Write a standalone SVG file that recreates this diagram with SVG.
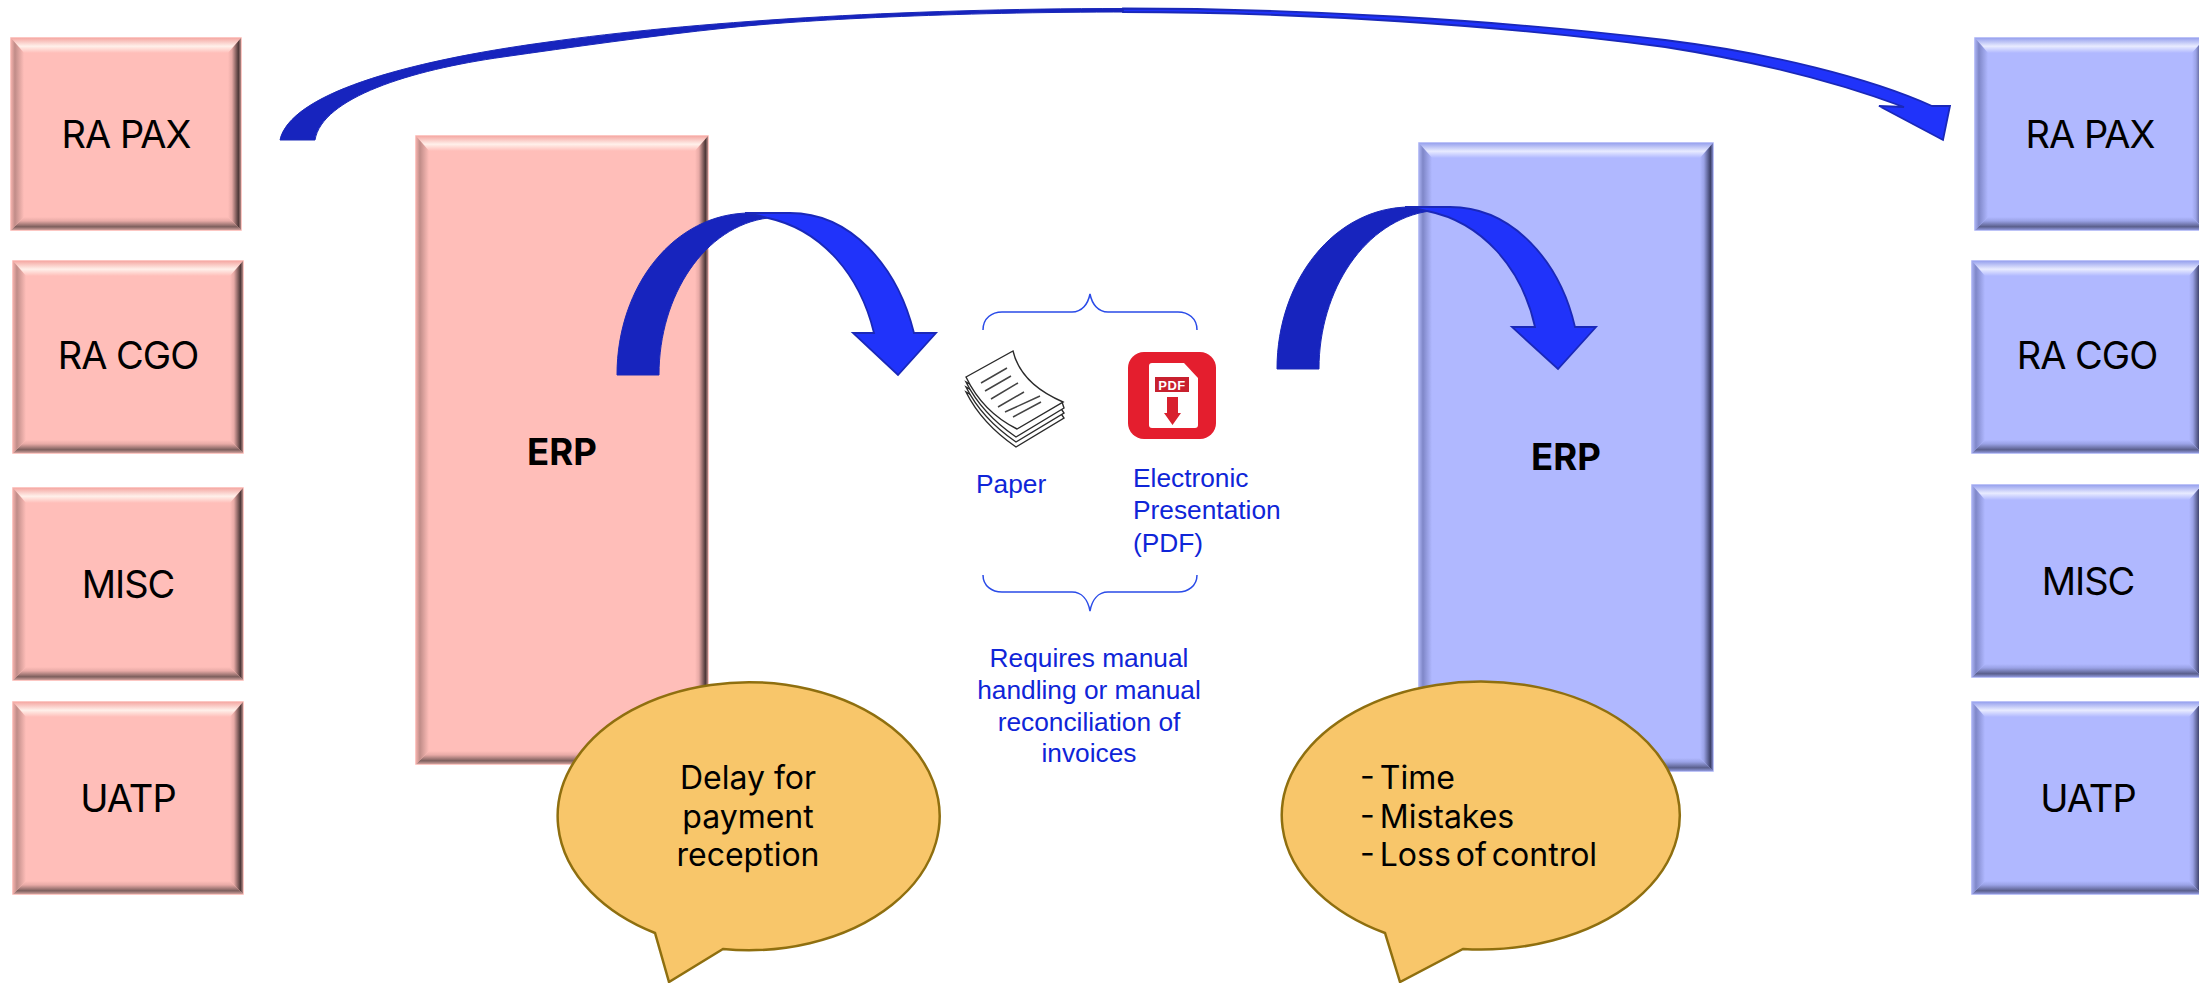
<svg xmlns="http://www.w3.org/2000/svg" width="2199" height="983" viewBox="0 0 2199 983">
<style>
.lbl{font-family:Inter,"Liberation Sans",sans-serif;font-size:38px;letter-spacing:-1px;fill:#000;text-anchor:middle}
.erp{font-family:Inter,"Liberation Sans",sans-serif;font-size:36.500px;font-weight:700;fill:#000;text-anchor:middle}
.say{font-family:Inter,"Liberation Sans",sans-serif;font-size:32px;fill:#000}
.mid{text-anchor:middle}
.tight{word-spacing:-4px}
.blue{font-family:"Liberation Sans",Arial,sans-serif;font-size:26.300px;fill:#0f25d8}
.brace{fill:none;stroke:#2a4be8;stroke-width:1.5}
.call{fill:#F8C66A;stroke:#8f6f0f;stroke-width:2.500}
.dark{fill:#1724BE;stroke:#1a28b8;stroke-width:1}
.bright{fill:#2033FA;stroke:#1a28b8;stroke-width:1.800;stroke-linejoin:miter}
.pk{fill:#FFBEB9;stroke:#fbb5b0;stroke-width:1.500}
.bl{fill:#B0B8FF;stroke:#a8b0f5;stroke-width:1.500}
.sheet{fill:#fff;stroke:#2a2a2a;stroke-width:1.400}
.ln{fill:none;stroke:#444;stroke-width:1.500}
</style>
<defs>
<linearGradient id="pt" x1="0" y1="0" x2="0" y2="1"><stop offset="0" stop-color="#f5a9a4"/><stop offset=".55" stop-color="#fff0ea"/><stop offset="1" stop-color="#FFBEB9"/></linearGradient>
<linearGradient id="pr" x1="0" y1="0" x2="1" y2="0"><stop offset="0" stop-color="#FFBEB9"/><stop offset=".3" stop-color="#e8aaa6"/><stop offset=".8" stop-color="#4d3838"/><stop offset="1" stop-color="#b58b88"/></linearGradient>
<linearGradient id="pb" x1="0" y1="0" x2="0" y2="1"><stop offset="0" stop-color="#FFBEB9"/><stop offset=".3" stop-color="#e8aaa6"/><stop offset=".75" stop-color="#7d5f5d"/><stop offset="1" stop-color="#d0a09c"/></linearGradient>
<linearGradient id="pl" x1="0" y1="0" x2="1" y2="0"><stop offset="0" stop-color="#f2b0ab"/><stop offset=".3" stop-color="#c08c88"/><stop offset="1" stop-color="#FFBEB9"/></linearGradient>
<linearGradient id="bt" x1="0" y1="0" x2="0" y2="1"><stop offset="0" stop-color="#98a2ee"/><stop offset=".55" stop-color="#e8ebff"/><stop offset="1" stop-color="#B0B8FF"/></linearGradient>
<linearGradient id="br" x1="0" y1="0" x2="1" y2="0"><stop offset="0" stop-color="#B0B8FF"/><stop offset=".3" stop-color="#9aa2e6"/><stop offset=".8" stop-color="#3c4068"/><stop offset="1" stop-color="#8088c8"/></linearGradient>
<linearGradient id="bb" x1="0" y1="0" x2="0" y2="1"><stop offset="0" stop-color="#B0B8FF"/><stop offset=".3" stop-color="#9aa2e6"/><stop offset=".75" stop-color="#5a5f8c"/><stop offset="1" stop-color="#9098dc"/></linearGradient>
<linearGradient id="bg" x1="0" y1="0" x2="1" y2="0"><stop offset="0" stop-color="#a8b0f0"/><stop offset=".3" stop-color="#7f87c8"/><stop offset="1" stop-color="#B0B8FF"/></linearGradient>
<g id="smallP"><rect class="pk" x="0" y="0" width="230" height="192"/><polygon fill="url(#pt)" points="0,0 230,0 217,15 13,15"/><polygon fill="url(#pr)" points="230,0 230,192 217,179 217,15"/><polygon fill="url(#pb)" points="0,192 230,192 217,179 13,179"/><polygon fill="url(#pl)" points="0,0 13,15 13,179 0,192"/></g>
<g id="smallB"><rect class="bl" x="0" y="0" width="230" height="192"/><polygon fill="url(#bt)" points="0,0 230,0 217,15 13,15"/><polygon fill="url(#br)" points="230,0 230,192 217,179 217,15"/><polygon fill="url(#bb)" points="0,192 230,192 217,179 13,179"/><polygon fill="url(#bg)" points="0,0 13,15 13,179 0,192"/></g>
</defs>
<rect width="2199" height="983" fill="#fff"/>

<g id="left-ra-pax"><use href="#smallP" x="11" y="38"/><text class="lbl" x="126" y="148">RA PAX</text></g>
<g id="left-ra-cgo"><use href="#smallP" x="13" y="261"/><text class="lbl" x="128" y="369">RA CGO</text></g>
<g id="left-misc"><use href="#smallP" x="13" y="488"/><text class="lbl" x="128" y="598">MISC</text></g>
<g id="left-uatp"><use href="#smallP" x="13" y="702"/><text class="lbl" x="128" y="812">UATP</text></g>
<g id="left-erp"><rect class="pk" x="416" y="136" width="292" height="628"/><polygon fill="url(#pt)" points="416,136 708,136 695,151 429,151"/><polygon fill="url(#pr)" points="708,136 708,764 695,751 695,151"/><polygon fill="url(#pb)" points="416,764 708,764 695,751 429,751"/><polygon fill="url(#pl)" points="416,136 429,151 429,751 416,764"/><text class="erp" x="562" y="465">ERP</text></g>

<g id="right-ra-pax"><use href="#smallB" x="1975" y="38"/><text class="lbl" x="2090" y="148">RA PAX</text></g>
<g id="right-ra-cgo"><use href="#smallB" x="1972" y="261"/><text class="lbl" x="2087" y="369">RA CGO</text></g>
<g id="right-misc"><use href="#smallB" x="1972" y="485"/><text class="lbl" x="2088" y="595">MISC</text></g>
<g id="right-uatp"><use href="#smallB" x="1972" y="702"/><text class="lbl" x="2088" y="812">UATP</text></g>
<g id="right-erp"><rect class="bl" x="1419" y="143" width="294" height="628"/><polygon fill="url(#bt)" points="1419,143 1713,143 1700,158 1432,158"/><polygon fill="url(#br)" points="1713,143 1713,771 1700,758 1700,158"/><polygon fill="url(#bb)" points="1419,771 1713,771 1700,758 1432,758"/><polygon fill="url(#bg)" points="1419,143 1432,158 1432,758 1419,771"/><text class="erp" x="1566" y="470">ERP</text></g>

<g id="connectors">
<g id="arrow-top">
<path class="dark" d="M280 140 C290 95 400 62 548 42 C690 22 900 8.500 1123 8.500 L1130 12 C950 12 800 20 726 28 C650 36 570 47.500 503 57 C410 70 322 98 315 140 Z"/>
<path class="bright" d="M1123 8.500 C1300 8.500 1500 20 1665 40 C1770 53 1870 78 1932 106 L1950 106 L1943 140 L1879 106 L1904 107 C1840 83 1760 62 1665 47 C1500 25 1300 12 1123 12 Z"/>
</g>
<g id="arrow-left">
<path class="dark" d="M617 375 C617 285 675 213 750 213 L768 218 C705 226 659 295 659 375 Z"/>
<path class="bright" d="M745 213 L790 213 C850 213 897 265 914 333 L936 333 L898 375 L853 333 L874 333 C860 275 822 230 768 218 C760 216 752 214 745 213 Z"/>
</g>
<g id="arrow-right">
<path class="dark" d="M1277 369 C1277 280 1335 207 1410 207 L1430 211 C1365 220 1319 290 1319 369 Z"/>
<path class="bright" d="M1405 207 L1450 207 C1513 207 1560 262 1575 327 L1596 327 L1558 369 L1512 327 L1535 327 C1522 268 1482 222 1427 211 C1420 209 1412 208 1405 207 Z"/>
</g>
</g>

<g id="callout-left"><path class="call" d="M655 933 A191 134 0 1 1 723 949 L669 982 Z"/>
<text class="say mid" x="748" y="789">Delay for</text><text class="say mid" x="748" y="828">payment</text><text class="say mid" x="748" y="866">reception</text></g>
<g id="callout-right"><path class="call" d="M1385 933 A199 134 0 1 1 1463 949 L1400 982 Z"/>
<text class="say tight" x="1360" y="789">- Time</text><text class="say tight" x="1360" y="828">- Mistakes</text><text class="say tight" x="1360" y="866">- Loss of control</text></g>

<g id="paper-group">
<path class="brace" d="M983 330 C983 318 992 312 1002 312 L1072 312 C1082 312 1088 304 1090 294 C1092 304 1098 312 1108 312 L1178 312 C1188 312 1197 318 1197 330"/>
<path class="brace" d="M983 575 C983 586 992 592 1002 592 L1072 592 C1082 592 1088 600 1090 611 C1092 600 1098 592 1108 592 L1178 592 C1188 592 1197 586 1197 575"/>
<g id="paper-icon">
<path class="sheet" d="M966 392 C980 420 1000 436 1016 447 L1064 418 L1060 412 L1015 420 Z"/>
<path class="sheet" d="M966 387 C980 415 1000 431 1016 442 L1064 413 L1060 407 L1015 415 Z"/>
<path class="sheet" d="M966 382 C980 410 1000 426 1016 437 L1064 408 L1062 402 L1015 410 Z"/>
<path class="sheet" d="M966 377 L1013 351 C1018 372 1035 390 1063 402 L1017 429 C995 418 977 400 966 377 Z"/>
<path class="ln" d="M981 383 L1007 368 M985 391 L1011 376 M991 399 L1018 383 M998 407 L1024 392 M1005 412 L1040 396 M1013 417 L1041 402"/>
</g>
<g id="pdf-icon">
<rect x="1128" y="352" width="88" height="87" rx="16" fill="#E41E2E"/>
<path d="M1149 366 Q1149 363 1152 363 L1184 363 L1198 378 L1198 425 Q1198 428 1195 428 L1152 428 Q1149 428 1149 425 Z" fill="#fff"/>
<rect x="1155" y="377" width="34" height="15" fill="#C8202E"/>
<text x="1172" y="390" font-family="'Liberation Sans',sans-serif" font-size="13" font-weight="700" fill="#fff" text-anchor="middle" letter-spacing=".5">PDF</text>
<polygon points="1167,397 1178,397 1178,413 1181,413 1172.500,425 1164,413 1167,413" fill="#D8202E"/>
</g>
<text class="blue" x="976" y="493">Paper</text>
<text class="blue" x="1133" y="487">Electronic</text><text class="blue" x="1133" y="519">Presentation</text><text class="blue" x="1133" y="552">(PDF)</text>
<text class="blue mid" x="1089" y="667">Requires manual</text><text class="blue mid" x="1089" y="699">handling or manual</text><text class="blue mid" x="1089" y="731">reconciliation of</text><text class="blue mid" x="1089" y="762">invoices</text>
</g>
</svg>
